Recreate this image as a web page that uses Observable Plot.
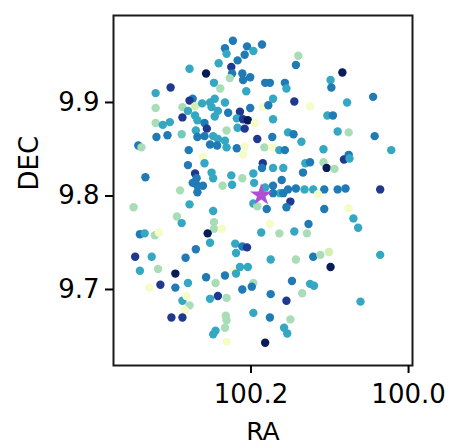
<!DOCTYPE html>
<html>
<head>
<meta charset="utf-8">
<script src="https://cdn.jsdelivr.net/npm/d3@7"></script>
<script src="https://cdn.jsdelivr.net/npm/@observablehq/plot@0.6"></script>
<style>
  html, body { margin: 0; padding: 0; background: #fff; }
  #chart svg { display: block; }
</style>
</head>
<body>
<div id="chart"></div>
<script>
// Field sources: right ascension (deg), declination (deg) and a colour value (0..1)
const ra = [
  100.223, 100.233, 100.205, 100.186, 100.231, 100.208, 100.217, 100.197, 100.241, 100.225,
  100.278, 100.257, 100.224, 100.211, 100.227, 100.201, 100.210, 100.247, 100.302, 100.239,
  100.206, 100.182, 100.176, 100.157, 100.155, 100.321, 100.274, 100.278, 100.321, 100.287,
  100.271, 100.262, 100.252, 100.246, 100.233, 100.280, 100.250, 100.242, 100.229, 100.214,
  100.201, 100.185, 100.178, 100.172, 100.172, 100.287, 100.271, 100.268, 100.259, 100.246,
  100.218, 100.210, 100.204, 100.195, 100.321, 100.312, 100.303, 100.217, 100.208, 100.231,
  100.256, 100.320, 100.306, 100.288, 100.270, 100.268, 100.259, 100.248, 100.242, 100.233,
  100.252, 100.243, 100.231, 100.218, 100.208, 100.192, 100.173, 100.183, 100.173, 100.164,
  100.157, 100.343, 100.339, 100.279, 100.261, 100.210, 100.280, 100.259, 100.185, 100.186,
  100.172, 100.159, 100.334, 100.271, 100.269, 100.250, 100.248, 100.236, 100.225, 100.211,
  100.197, 100.196, 100.224, 100.268, 100.261, 100.274, 100.290, 100.268, 100.172, 100.163,
  100.182, 100.172, 100.159,
  100.140, 100.143, 100.084, 100.099, 100.098, 100.145, 100.125, 100.078, 100.045, 100.103,
  100.096, 100.153, 100.146, 100.136, 100.090, 100.076, 100.043, 100.022, 100.108, 100.076,
  100.082, 100.075, 100.131, 100.125, 100.134, 100.108, 100.104, 100.094, 100.161, 100.153,
  100.143, 100.132, 100.121, 100.107, 100.090, 100.080, 100.036, 100.115, 100.150,
  100.197, 100.192, 100.180, 100.155, 100.349, 100.278, 100.248, 100.294, 100.288, 100.247,
  100.247, 100.237, 100.176, 100.187, 100.164, 100.341, 100.335, 100.322, 100.317, 100.255,
  100.252, 100.220, 100.211, 100.205, 100.219, 100.270, 100.347, 100.326, 100.283, 100.175,
  100.341, 100.318, 100.296, 100.280, 100.257, 100.245, 100.233, 100.222, 100.219, 100.214,
  100.204, 100.197, 100.199, 100.329, 100.315, 100.296, 100.211, 100.175, 100.155, 100.287,
  100.282, 100.278, 100.284, 100.252, 100.242, 100.231, 100.301, 100.287, 100.197, 100.176,
  100.232, 100.231, 100.233, 100.245, 100.248, 100.231, 100.182, 100.158, 100.154,
  100.107, 100.076, 100.070, 100.064, 100.127, 100.145, 100.129, 100.121, 100.112, 100.101,
  100.143, 100.099, 100.036, 100.148, 100.125, 100.120, 100.135, 100.061, 100.150
];
const dec = [
  9.966, 9.958, 9.960, 9.962, 9.952, 9.951, 9.945, 9.955, 9.942, 9.938,
  9.936, 9.931, 9.931, 9.931, 9.926, 9.927, 9.924, 9.921, 9.916, 9.915,
  9.912, 9.921, 9.921, 9.921, 9.915, 9.910, 9.904, 9.902, 9.894, 9.895,
  9.896, 9.899, 9.900, 9.904, 9.900, 9.891, 9.895, 9.891, 9.889, 9.890,
  9.894, 9.895, 9.897, 9.904, 9.882, 9.884, 9.886, 9.881, 9.878, 9.885,
  9.883, 9.882, 9.881, 9.878, 9.878, 9.876, 9.879, 9.873, 9.872, 9.870,
  9.872, 9.863, 9.865, 9.866, 9.870, 9.863, 9.864, 9.864, 9.861, 9.859,
  9.855, 9.854, 9.852, 9.851, 9.853, 9.861, 9.863, 9.852, 9.852, 9.849,
  9.849, 9.854, 9.852, 9.849, 9.842, 9.844, 9.833, 9.835, 9.835, 9.830,
  9.830, 9.830, 9.820, 9.824, 9.819, 9.825, 9.819, 9.811, 9.822, 9.819,
  9.824, 9.814, 9.812, 9.811, 9.811, 9.814, 9.806, 9.804, 9.811, 9.803,
  9.809, 9.803, 9.803,
  9.950, 9.940, 9.932, 9.924, 9.916, 9.901, 9.896, 9.900, 9.906, 9.886,
  9.886, 9.868, 9.866, 9.858, 9.869, 9.868, 9.864, 9.849, 9.850, 9.844,
  9.839, 9.840, 9.835, 9.836, 9.825, 9.836, 9.830, 9.829, 9.817, 9.807,
  9.808, 9.807, 9.807, 9.807, 9.807, 9.808, 9.807, 9.802, 9.794,
  9.792, 9.789, 9.786, 9.788, 9.788, 9.791, 9.784, 9.778, 9.771, 9.772,
  9.765, 9.765, 9.770, 9.761, 9.760, 9.759, 9.760, 9.758, 9.761, 9.760,
  9.750, 9.749, 9.746, 9.745, 9.739, 9.743, 9.735, 9.735, 9.734, 9.732,
  9.720, 9.722, 9.717, 9.707, 9.713, 9.707, 9.715, 9.720, 9.717, 9.724,
  9.724, 9.707, 9.703, 9.702, 9.705, 9.702, 9.700, 9.695, 9.688, 9.688,
  9.693, 9.683, 9.678, 9.690, 9.693, 9.691, 9.670, 9.670, 9.675, 9.670,
  9.672, 9.667, 9.659, 9.656, 9.652, 9.644, 9.643, 9.659, 9.653,
  9.786, 9.787, 9.776, 9.766, 9.770, 9.762, 9.760, 9.735, 9.737, 9.740,
  9.732, 9.724, 9.737, 9.709, 9.706, 9.704, 9.696, 9.687, 9.668
];
const zval = [
  0.68, 0.68, 0.68, 0.68, 0.55, 0.68, 0.68, 0.55, 0.55, 0.87,
  0.55, 1.00, 0.68, 0.68, 0.30, 0.68, 0.68, 0.55, 0.87, 0.30,
  0.55, 0.68, 0.68, 0.68, 0.55, 0.55, 0.68, 0.87, 0.30, 0.30,
  0.20, 0.55, 0.55, 0.55, 0.55, 0.55, 0.55, 0.55, 0.68, 0.87,
  0.68, 0.06, 0.68, 0.55, 0.55, 0.87, 0.55, 0.55, 0.68, 0.55,
  0.55, 0.87, 1.00, 0.06, 0.30, 0.55, 0.55, 0.55, 0.87, 0.30,
  0.87, 0.68, 0.68, 0.40, 0.55, 0.68, 0.68, 0.55, 0.55, 0.55,
  0.68, 0.68, 0.55, 0.68, 0.06, 0.87, 0.68, 0.30, 0.06, 0.55,
  0.68, 0.68, 0.30, 0.68, 0.06, 0.06, 0.68, 0.55, 0.87, 0.68,
  0.55, 0.55, 0.68, 0.87, 0.68, 0.55, 0.55, 0.30, 0.55, 0.30,
  0.55, 0.55, 0.55, 0.68, 0.68, 0.68, 0.30, 0.68, 0.68, 0.55,
  0.55, 0.68, 0.68,
  0.30, 0.68, 1.00, 0.55, 0.68, 0.87, 0.06, 0.55, 0.68, 0.55,
  0.68, 0.55, 0.68, 0.55, 0.55, 0.30, 0.68, 0.55, 0.55, 0.68,
  0.87, 0.55, 0.55, 0.68, 0.68, 0.30, 1.00, 0.30, 0.68, 0.68,
  0.68, 0.55, 0.55, 0.68, 0.68, 0.68, 0.87, 0.06, 0.87,
  0.55, 0.30, 0.68, 0.68, 0.30, 0.55, 0.55, 0.30, 0.55, 0.30,
  0.30, 0.06, 0.06, 0.55, 0.30, 0.68, 0.55, 0.30, 0.06, 1.00,
  0.55, 0.55, 0.68, 0.87, 0.55, 0.68, 0.87, 0.55, 0.68, 0.55,
  0.55, 0.30, 1.00, 0.55, 0.68, 0.30, 0.68, 0.06, 0.55, 0.55,
  0.55, 0.30, 0.68, 0.06, 0.87, 0.68, 0.68, 0.68, 0.87, 0.55,
  0.06, 0.30, 0.06, 0.55, 0.87, 0.30, 0.87, 0.87, 0.55, 0.68,
  0.30, 0.30, 0.30, 0.55, 0.55, 0.06, 1.00, 0.55, 0.55,
  0.68, 0.06, 0.55, 0.55, 0.68, 0.55, 0.30, 0.68, 0.30, 0.20,
  0.30, 1.00, 0.55, 0.68, 0.55, 0.55, 0.30, 0.55, 0.30
];

// Target position marked with a star
const targetRa = [100.187];
const targetDec = [9.801];

// Axis ticks
const xTicks = [100.2, 100.0];
const yTicks = [9.7, 9.8, 9.9];

const points = ra.map((r, i) => ({ra: r, dec: dec[i], z: zval[i]}));
const target = targetRa.map((r, i) => ({ra: r, dec: targetDec[i]}));

const chart = Plot.plot({
  width: 452,
  height: 445,
  marginLeft: 113,
  marginRight: 40,
  marginTop: 15,
  marginBottom: 80,
  style: {fontFamily: "DejaVu Sans", fontSize: "26px", color: "#000", background: "#fff", overflow: "visible"},
  x: {domain: [100.3745, 99.995]},
  y: {domain: [9.6187, 9.993]},
  color: {type: "linear", scheme: "YlGnBu", domain: [0, 1]},
  marks: [
    Plot.dot(points, {x: "ra", y: "dec", fill: "z", r: 4.2}),
    Plot.dot(target, {x: "ra", y: "dec", symbol: "star", fill: "#b04fd6", r: 7}),
    Plot.frame({stroke: "#1a1a1a", strokeWidth: 2}),
    Plot.axisX(xTicks, {anchor: "bottom", tickSize: 8, tickPadding: 11, tickFormat: ".1f", fontSize: 26, strokeWidth: 2, label: null}),
    Plot.axisY(yTicks, {anchor: "left", tickSize: 8, tickPadding: 6, tickFormat: ".1f", fontSize: 26, strokeWidth: 2, label: null}),
    Plot.text(["RA"], {frameAnchor: "bottom", dy: 66, lineAnchor: "middle", fontSize: 25}),
    Plot.text(["DEC"], {frameAnchor: "left", dx: -84, rotate: -90, lineAnchor: "middle", fontSize: 26})
  ]
});

document.getElementById("chart").append(chart);
</script>
</body>
</html>
